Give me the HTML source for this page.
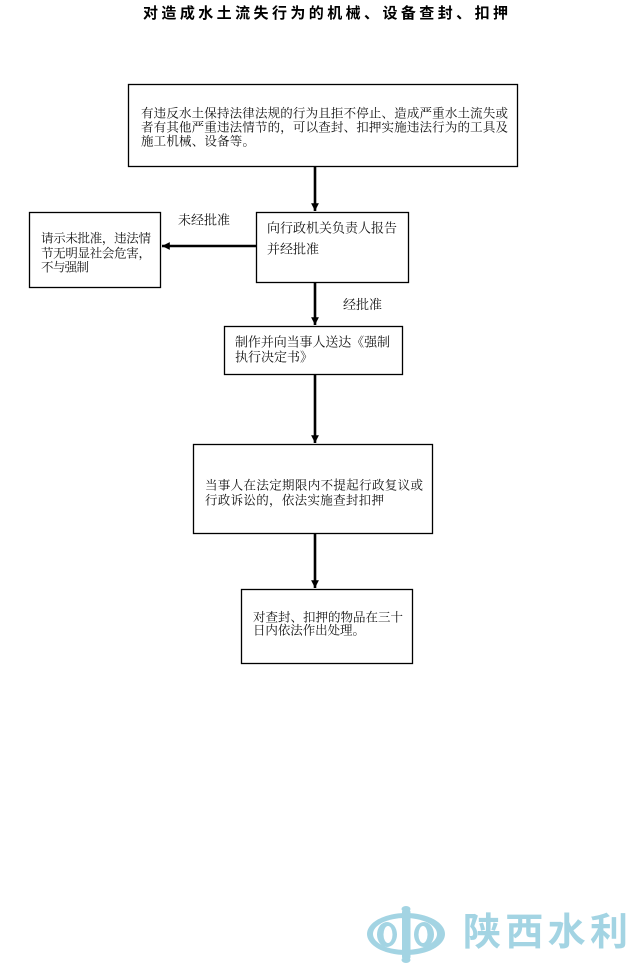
<!DOCTYPE html>
<html>
<head>
<meta charset="utf-8">
<style>
html,body{margin:0;padding:0;background:#fff;}
body{width:640px;height:970px;overflow:hidden;}
svg{display:block;}
text{font-family:"Liberation Serif","Noto Serif CJK SC",serif;fill:#111;}
.t{font-size:12.5px;}
.title{font-family:"Liberation Sans","Noto Sans CJK SC",sans-serif;font-weight:bold;font-size:15px;fill:#000;}
.logo{font-family:"Liberation Sans","Noto Sans CJK SC",sans-serif;font-weight:bold;font-size:38px;fill:#a3d4e3;}
</style>
</head>
<body>
<svg width="640" height="970" viewBox="0 0 640 970" xmlns="http://www.w3.org/2000/svg">
  <defs>
    <marker id="ah" viewBox="0 0 10 10" refX="10" refY="5" markerWidth="3" markerHeight="3.3" orient="auto" markerUnits="strokeWidth">
      <path d="M0,0 L10,5 L0,10 z" fill="#000"/>
    </marker>
  </defs>

  <!-- Title -->
  <text class="title" x="143" y="18" textLength="365" lengthAdjust="spacing">对造成水土流失行为的机械、设备查封、扣押</text>

  <!-- Box 1 -->
  <rect x="128.5" y="84.5" width="389" height="82" fill="#fff" stroke="#000" stroke-width="1.3"/>
  <text class="t" x="141" y="117.5" textLength="367" lengthAdjust="spacing">有违反水土保持法律法规的行为且拒不停止、造成严重水土流失或</text>
  <text class="t" x="141" y="131.5" textLength="367" lengthAdjust="spacing">者有其他严重违法情节的，可以查封、扣押实施违法行为的工具及</text>
  <text class="t" x="141" y="145.5" textLength="114" lengthAdjust="spacing">施工机械、设备等。</text>

  <!-- Arrow 1 -->
  <line x1="315" y1="167" x2="315" y2="211" stroke="#000" stroke-width="2.6" marker-end="url(#ah)"/>

  <!-- Box 2 -->
  <rect x="256.5" y="212.5" width="152" height="70" fill="#fff" stroke="#000" stroke-width="1.3"/>
  <text class="t" x="267" y="232.5" textLength="130" lengthAdjust="spacing" style="font-size:13px">向行政机关负责人报告</text>
  <text class="t" x="267" y="253.5" textLength="52" lengthAdjust="spacing" style="font-size:13px">并经批准</text>

  <!-- Left box -->
  <rect x="29.5" y="212.5" width="131" height="75" fill="#fff" stroke="#000" stroke-width="1.3"/>
  <text class="t" x="41" y="242.5" textLength="110" lengthAdjust="spacing">请示未批准，违法情</text>
  <text class="t" x="41" y="257.5" textLength="110" lengthAdjust="spacing">节无明显社会危害，</text>
  <text class="t" x="41" y="271.5" textLength="48" lengthAdjust="spacing">不与强制</text>

  <!-- Horizontal arrow -->
  <line x1="256" y1="246" x2="162" y2="246" stroke="#000" stroke-width="2.6" marker-end="url(#ah)"/>
  <text class="t" x="178" y="224.5" textLength="52" lengthAdjust="spacing" style="font-size:13px">未经批准</text>

  <!-- Arrow 2 -->
  <line x1="315" y1="283" x2="315" y2="325" stroke="#000" stroke-width="2.6" marker-end="url(#ah)"/>
  <text class="t" x="343" y="309" textLength="39" lengthAdjust="spacing" style="font-size:13px">经批准</text>

  <!-- Box 3 -->
  <rect x="224.5" y="326.5" width="178" height="48" fill="#fff" stroke="#000" stroke-width="1.3"/>
  <text class="t" x="235" y="346.5" textLength="155" lengthAdjust="spacing" style="font-size:13px">制作并向当事人送达《强制</text>
  <text class="t" x="235" y="361.5" textLength="78" lengthAdjust="spacing" style="font-size:13px">执行决定书》</text>

  <!-- Arrow 3 -->
  <line x1="315" y1="375" x2="315" y2="443" stroke="#000" stroke-width="2.6" marker-end="url(#ah)"/>

  <!-- Box 4 -->
  <rect x="193.5" y="444.5" width="239" height="89" fill="#fff" stroke="#000" stroke-width="1.3"/>
  <text class="t" x="205" y="489.5" textLength="218" lengthAdjust="spacing">当事人在法定期限内不提起行政复议或</text>
  <text class="t" x="205" y="504.5" textLength="179" lengthAdjust="spacing">行政诉讼的，依法实施查封扣押</text>

  <!-- Arrow 4 -->
  <line x1="315" y1="534" x2="315" y2="588" stroke="#000" stroke-width="2.6" marker-end="url(#ah)"/>

  <!-- Box 5 -->
  <rect x="241.5" y="589.5" width="171" height="74" fill="#fff" stroke="#000" stroke-width="1.3"/>
  <text class="t" x="253" y="621.5" textLength="150" lengthAdjust="spacing">对查封、扣押的物品在三十</text>
  <text class="t" x="253" y="634.5" textLength="112" lengthAdjust="spacing">日内依法作出处理。</text>

  <!-- Logo icon -->
  <g fill="#a3d4e3">
    <ellipse cx="406" cy="934" rx="39" ry="21"/>
    <ellipse cx="405" cy="934" rx="32" ry="16" fill="#fff"/>
    <ellipse cx="387" cy="934.5" rx="10" ry="12.5"/>
    <ellipse cx="388" cy="934.5" rx="4.5" ry="8.5" fill="#fff"/>
    <ellipse cx="424" cy="934.5" rx="10" ry="12.5"/>
    <ellipse cx="423" cy="934.5" rx="4.5" ry="8.5" fill="#fff"/>
    <rect x="402" y="909" width="8.5" height="51" rx="3"/>
    <ellipse cx="406" cy="909" rx="4.5" ry="3"/>
    <ellipse cx="406" cy="960" rx="4.5" ry="3"/>
  </g>
  <text class="logo" x="463" y="945" textLength="165" lengthAdjust="spacing">陕西水利</text>
</svg>
</body>
</html>
